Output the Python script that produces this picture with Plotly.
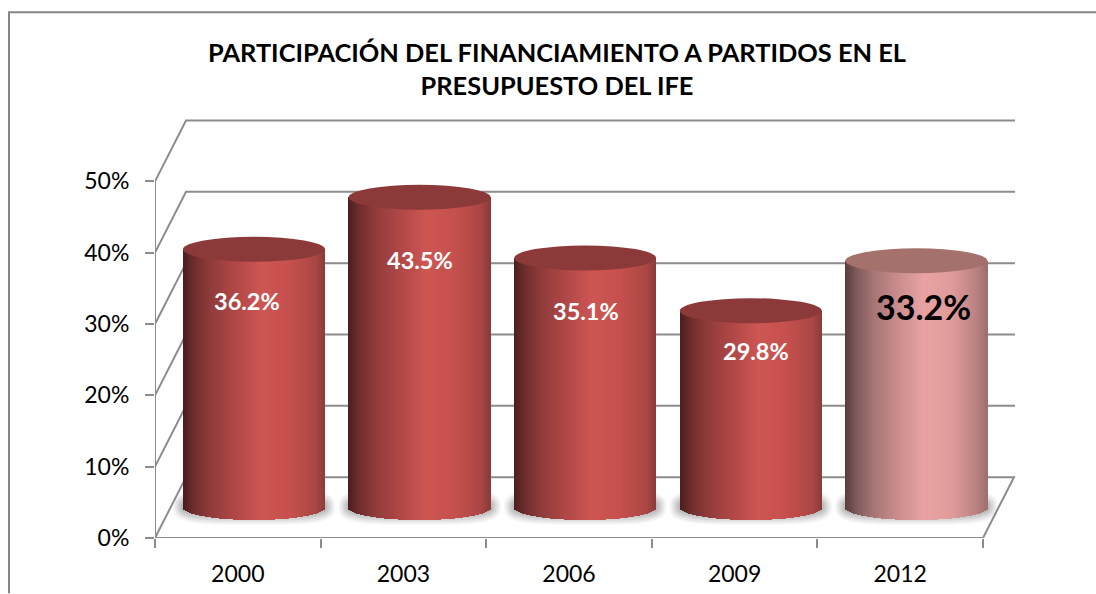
import math
import plotly.graph_objects as go

# ---- data
years = ["2000", "2003", "2006", "2009", "2012"]
drawn_values = [36.2, 43.5, 35.0, 27.6, 34.6]
label_texts = ["36.2%", "43.5%", "35.1%", "29.8%", "33.2%"]
label_y = [33.2, 39.0, 31.8, 26.2, 32.4]
y_ticks = [0, 10, 20, 30, 40, 50]
y_tick_labels = ["0%", "10%", "20%", "30%", "40%", "50%"]
title_text = "PARTICIPACIÓN DEL FINANCIAMIENTO A PARTIDOS EN EL<br>PRESUPUESTO DEL IFE"

# ---- geometry and style
W, H = 1096, 594
L_PX, R_PX, T_PX, B_PX = 155.0, 1020.0, 109.5, 538.5
UX = 165.6
UY = 7.15
X0 = -0.5
X_MAX = X0 + (R_PX - L_PX) / UX
Y_MAX = (B_PX - T_PX) / UY
DEPTH_X = 31 / UX
DEPTH_Y = 61 / UY
MID_X = 16.2 / UX
MID_Y = 30.5 / UY
HALF_W = 71 / UX
ELL_Y = 12.5 / UY
N_STRIPS = 71
FONT = "Lato, Carlito, Calibri, sans-serif"
GRID = "#8c8c8c"

RED_STOPS = [(0, "#4a1e1e"), (.08, "#702e2e"), (.2, "#923c3c"), (.35, "#ad4645"), (.55, "#cd5653"),
             (.75, "#c6504d"), (.93, "#ab4745"), (1, "#8b3b3a")]
PINK_STOPS = [(0, "#573c3c"), (.08, "#7f5a5a"), (.2, "#a67474"), (.35, "#c58a8a"), (.55, "#e8a2a2"),
              (.75, "#e09b9b"), (.93, "#b98080"), (1, "#9c6e6e")]
RED_TOP = "#8c3a39"
PINK_TOP = "#a5716d"


def hex_rgb(h):
    return tuple(int(h[i:i + 2], 16) for i in (1, 3, 5))


def ramp(stops, t):
    for (a, ca), (b, cb) in zip(stops, stops[1:]):
        if t <= b:
            f = (t - a) / (b - a)
            ra, rb = hex_rgb(ca), hex_rgb(cb)
            return "rgb(%d,%d,%d)" % tuple(round(ra[k] + (rb[k] - ra[k]) * f) for k in range(3))
    return stops[-1][1]


def px(x):
    return (x - L_PX) / (R_PX - L_PX)


def py(y):
    return (B_PX - y) / (B_PX - T_PX)


fig = go.Figure()

# cylinder sides: vertical strips drawn as bars, rounded at the floor
xs = list(range(len(years)))
for s in range(N_STRIPS):
    t = (s + 0.5) / N_STRIPS
    u = 2 * t - 1
    drop = ELL_Y * math.sqrt(max(0, 1 - u * u))
    colors = [ramp(PINK_STOPS if i == len(years) - 1 else RED_STOPS, t) for i in xs]
    fig.add_bar(
        x=[i + MID_X + u * HALF_W for i in xs],
        y=[v + drop for v in drawn_values],
        base=[MID_Y - drop] * len(xs),
        width=2 * HALF_W / N_STRIPS * 1.25,
        marker=dict(color=colors, line=dict(width=0)),
        showlegend=False,
        hoverinfo="skip",
    )

shapes = []
line = dict(color=GRID, width=2)

# outer chart frame
shapes.append(dict(type="path", xref="paper", yref="paper",
                   path=f"M {px(9)} {py(594)} L {px(9)} {py(11.5)} L {px(1096)} {py(11.5)}",
                   line=dict(color="#868686", width=2), layer="below"))

# walls and floor
for v in y_ticks[1:]:
    shapes.append(dict(type="path", xref="x", yref="y", layer="below", line=line,
                       path=f"M {X0} {v} L {X0 + DEPTH_X} {v + DEPTH_Y} L {X_MAX - 0.03} {v + DEPTH_Y}"))
shapes.append(dict(type="path", xref="x", yref="y", layer="below", line=line,
                   path=f"M {X0} 0 L {X0 + DEPTH_X} {DEPTH_Y} L {X0 + 5 + DEPTH_X} {DEPTH_Y} L {X0 + 5} 0 Z"))
shapes.append(dict(type="line", xref="x", yref="y", layer="below", line=line, x0=X0, x1=X0, y0=0, y1=50))

# soft shadows on the floor
for g, op in [(12, .07), (10, .09), (8, .11), (6, .12), (4, .13), (2, .13)]:
    for i in xs:
        a = (69 + g) / UX
        b = (6 + g) / UY
        cy = (538.5 - 507) / UY
        cx = i + MID_X
        pts = []
        for k in range(48):
            th = 2 * math.pi * k / 48
            c, sn = math.cos(th), math.sin(th)
            pts.append((cx + a * abs(c) ** .45 * (1 if c >= 0 else -1), cy + b * abs(sn) ** .7 * (1 if sn >= 0 else -1)))
        shapes.append(dict(type="path", xref="x", yref="y", layer="below", opacity=op,
                           fillcolor="#666666", line=dict(width=0),
                           path="M " + " L ".join(f"{p} {q}" for p, q in pts) + " Z"))

# cylinder tops
for i, v in zip(xs, drawn_values):
    shapes.append(dict(type="circle", xref="x", yref="y", layer="above", line=dict(width=0),
                       fillcolor=PINK_TOP if i == len(years) - 1 else RED_TOP,
                       x0=i + MID_X - HALF_W, x1=i + MID_X + HALF_W,
                       y0=v + MID_Y - ELL_Y, y1=v + MID_Y + ELL_Y))

shift_px = [-7, 0, 1, 5, 7]
annotations = []
for i, (txt, y) in enumerate(zip(label_texts, label_y)):
    last = i == len(years) - 1
    annotations.append(dict(x=i + MID_X, y=y, text=f"<b>{txt}</b>", showarrow=False, xshift=shift_px[i],
                            font=dict(family=FONT, size=34 if last else 23.5, color="#000000" if last else "#ffffff")))

fig.update_layout(
    width=W, height=H, autosize=False,
    paper_bgcolor="white", plot_bgcolor="rgba(0,0,0,0)",
    margin=dict(l=L_PX, r=W - R_PX, t=T_PX, b=H - B_PX, pad=0, autoexpand=False),
    barmode="overlay", bargap=0, showlegend=False,
    title=dict(text=f"<b>{title_text}</b>", font=dict(family=FONT, size=25.4, color="#000000"),
               x=557 / W, xref="container", xanchor="center", y=1 - 61.5 / H, yref="container", yanchor="middle"),
    shapes=shapes, annotations=annotations,
    xaxis=dict(range=[X0, X_MAX], tickvals=xs, ticktext=years, ticks="", showgrid=False, zeroline=False,
               automargin=False,
               showline=False, tickfont=dict(family=FONT, size=23, color="#000000"), ticklabelstandoff=20,
               minor=dict(tickvals=[X0 + k for k in range(6)], ticks="outside", ticklen=9, tickwidth=2,
                          tickcolor=GRID, showgrid=False)),
    yaxis=dict(range=[0, Y_MAX], tickvals=y_ticks, ticktext=y_tick_labels, ticks="outside", ticklen=9, tickwidth=2,
               automargin=False,
               tickcolor=GRID, showgrid=False, zeroline=False, showline=False, ticklabelstandoff=11,
               tickfont=dict(family=FONT, size=23, color="#000000")),
)

fig.write_html("out.html", config={"displayModeBar": False},
               post_script="document.body.style.margin='0';document.body.style.overflow='hidden';")
